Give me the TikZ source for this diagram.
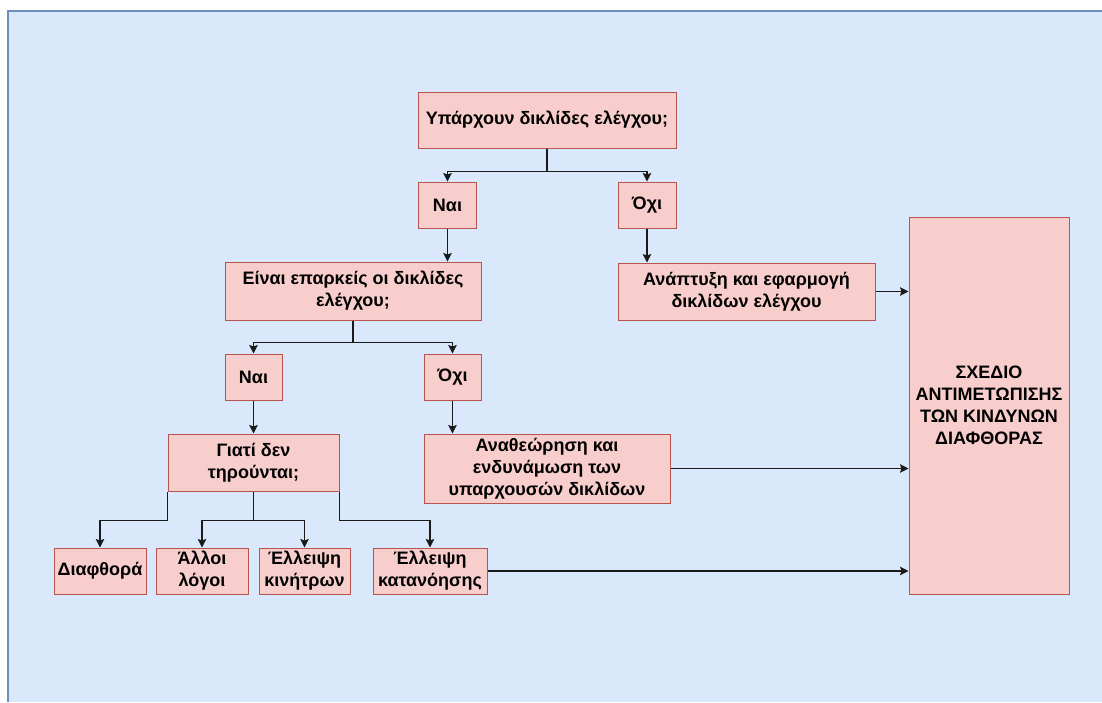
\documentclass[tikz,border=0pt]{standalone}
\usepackage{fontspec}
\setmainfont{Liberation Sans}
\usetikzlibrary{arrows.meta}
\definecolor{boxfill}{HTML}{F8CECC}
\definecolor{boxline}{HTML}{B85450}
\definecolor{bgfill}{HTML}{DAE8FC}
\definecolor{bgline}{HTML}{6C8EBF}
\definecolor{linkcol}{HTML}{1A1A1A}
\begin{document}
\begin{tikzpicture}[
    x=1pt,y=-1pt,
    >={Stealth[length=8.5pt,width=8.5pt,inset=1.5pt]},
    box/.style={
      draw=boxline,fill=boxfill,line width=1pt,inner sep=0pt,align=center,
      font=\bfseries\fontsize{18}{22}\selectfont
    },
    link/.style={draw=linkcol,line width=1.5pt,->},
  ]
  \useasboundingbox (0,0) rectangle (1102,702);
  \fill[white] (0,0) rectangle (1102,702);
  \fill[bgfill] (8,11) rectangle (1102,702);
  \draw[bgline,line width=1.2pt] (8,702) -- (8,11) -- (1102,11);
  % questions
  \node[box,minimum width=258pt,minimum height=56pt] (q1) at (547,120) {Υπάρχουν δικλίδες ελέγχου;};
  \node[box,minimum width=256pt,minimum height=58pt] (q2) at (353,291) {Είναι επαρκείς οι δικλίδες\\ελέγχου;};
  \node[box,minimum width=171pt,minimum height=57pt] (q3) at (253.5,462.5) {Γιατί δεν\\τηρούνται;};
  % answers
  \node[box,minimum width=58pt,minimum height=46pt] (yes1) at (447.5,205) {Ναι};
  \node[box,minimum width=58pt,minimum height=46pt] (no1) at (647,205) {Όχι};
  \node[box,minimum width=57pt,minimum height=46pt] (yes2) at (253.5,377) {Ναι};
  \node[box,minimum width=57pt,minimum height=46pt] (no2) at (452.5,377) {Όχι};
  % actions
  \node[box,minimum width=257pt,minimum height=57pt] (dev) at (746.5,291.5) {Ανάπτυξη και εφαρμογή\\δικλίδων ελέγχου};
  \node[box,minimum width=246pt,minimum height=69pt] (rev) at (547,468.5) {Αναθεώρηση και\\ενδυνάμωση των\\υπαρχουσών δικλίδων};
  % reasons
  \node[box,minimum width=92pt,minimum height=46pt] (corr) at (100,571) {Διαφθορά};
  \node[box,minimum width=92pt,minimum height=46pt] (other) at (202,571) {Άλλοι\\λόγοι};
  \node[box,minimum width=91pt,minimum height=46pt] (motiv) at (304.5,571) {Έλλειψη\\κινήτρων};
  \node[box,minimum width=114pt,minimum height=46pt] (underst) at (430,571) {Έλλειψη\\κατανόησης};
  \node[box,minimum width=160pt,minimum height=377pt] (plan) at (989,405.5) {ΣΧΕΔΙΟ\\ΑΝΤΙΜΕΤΩΠΙΣΗΣ\\ΤΩΝ ΚΙΝΔΥΝΩΝ\\ΔΙΑΦΘΟΡΑΣ};
  % links
  \draw[link] (q1.south) -- ++(0,23) -| (yes1.north);
  \draw[link] (q1.south) -- ++(0,23) -| (no1.north);
  \draw[link] (yes1) -- (yes1 |- q2.north);
  \draw[link] (no1) -- (no1 |- dev.north);
  \draw[link] (q2.south) -- ++(0,22) -| (yes2.north);
  \draw[link] (q2.south) -- ++(0,22) -| (no2.north);
  \draw[link] (yes2) -- (q3);
  \draw[link] (no2) -- (no2 |- rev.north);
  \draw[link] (q3.south west) -- ++(0,29) -| (corr.north);
  \draw[link] (q3.south) -- ++(0,29) -| (other.north);
  \draw[link] (q3.south) -- ++(0,29) -| (motiv.north);
  \draw[link] (q3.south east) -- ++(0,29) -| (underst.north);
  \draw[link] (dev) -- (dev -| plan.west);
  \draw[link] (rev) -- (rev -| plan.west);
  \draw[link] (underst) -- (underst -| plan.west);
\end{tikzpicture}
\end{document}
